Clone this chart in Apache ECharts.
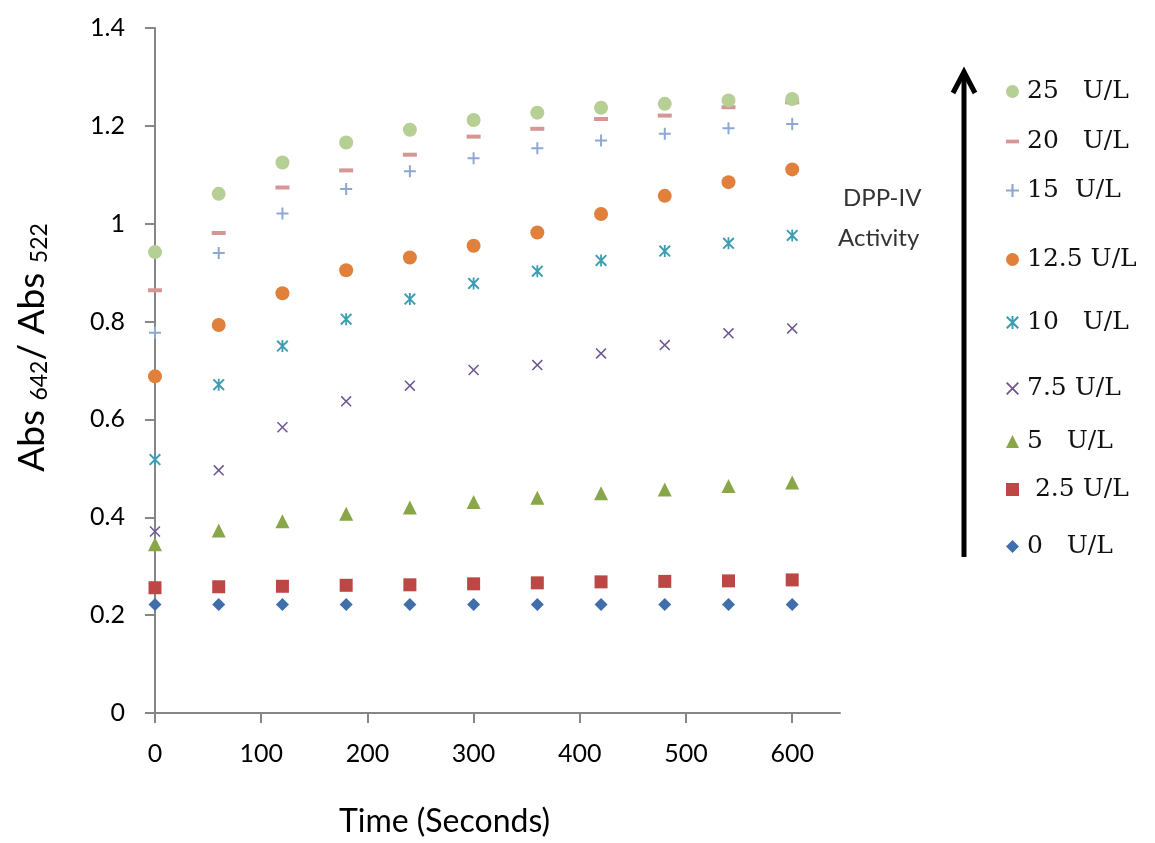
<!DOCTYPE html>
<html>
<head>
<meta charset="utf-8">
<script src="https://cdn.jsdelivr.net/npm/echarts@6/dist/echarts.min.js"></script>
<style>
  html, body { margin: 0; padding: 0; background: #fff; }
  #chart { width: 1155px; height: 843px; }
</style>
</head>
<body>
<div id="chart"></div>
<script>
// time points (s)
var times = [0, 60, 120, 180, 240, 300, 360, 420, 480, 540, 600];
var xTicks = [0, 100, 200, 300, 400, 500, 600];

// Abs642/Abs522 per DPP-IV activity
var u0   = [0.222, 0.222, 0.222, 0.222, 0.222, 0.222, 0.222, 0.222, 0.222, 0.222, 0.222];
var u2_5 = [0.256, 0.258, 0.259, 0.261, 0.262, 0.264, 0.266, 0.268, 0.269, 0.270, 0.272];
var u5   = [0.345, 0.373, 0.392, 0.407, 0.420, 0.431, 0.440, 0.449, 0.457, 0.464, 0.471];
var u7_5 = [0.371, 0.496, 0.584, 0.637, 0.669, 0.701, 0.711, 0.735, 0.752, 0.776, 0.786];
var u10  = [0.518, 0.671, 0.750, 0.805, 0.846, 0.878, 0.903, 0.925, 0.944, 0.960, 0.976];
var u12_5= [0.688, 0.793, 0.858, 0.905, 0.931, 0.955, 0.982, 1.020, 1.057, 1.085, 1.111];
var u15  = [0.777, 0.940, 1.021, 1.071, 1.107, 1.134, 1.154, 1.170, 1.184, 1.195, 1.204];
var u20  = [0.864, 0.981, 1.074, 1.109, 1.141, 1.178, 1.194, 1.214, 1.221, 1.238, 1.248];
var u25  = [0.942, 1.061, 1.125, 1.166, 1.192, 1.212, 1.227, 1.237, 1.245, 1.252, 1.255];

var seriesNames = ['0 U/L', '2.5 U/L', '5 U/L', '7.5 U/L', '10 U/L', '12.5 U/L', '15 U/L', '20 U/L', '25 U/L'];
var legendLabels = ['0   U/L', ' 2.5 U/L', '5   U/L', '7.5 U/L', '10   U/L', '12.5 U/L', '15  U/L', '20   U/L', '25   U/L'];
var seriesData = [u0, u2_5, u5, u7_5, u10, u12_5, u15, u20, u25];

var PATH_PLUS = 'path://M5,0h2v5h5v2h-5v5h-2v-5h-5v-2h5z';
var PATH_X = 'path://M1.2,0L12,10.8L10.8,12L0,1.2Z M10.8,0L12,1.2L1.2,12L0,10.8Z';
var PATH_STAR = 'path://M1.4,0L12,10.6L10.6,12L0,1.4Z M10.6,0L12,1.4L1.4,12L0,10.6Z M5.1,0h1.8v12h-1.8z';
var PATH_DASH = 'path://M0,0h14v4h-14z';

var colors  = ['#3f6eab', '#bd4745', '#8aa64a', '#6f5792', '#3f9db3', '#e0803a', '#8ea7d3', '#d69696', '#b5cf94'];
var symbols = ['diamond', 'rect', 'triangle', PATH_X, PATH_STAR, 'circle', PATH_PLUS, PATH_DASH, 'circle'];
var sizes   = [13, 13, 14, 11, 12, 14, 12, [14, 4], 14];
// legend row centres (px), same order as series
var legendY = [542, 485, 437, 384, 318, 255, 186, 137, 87];

var chart = echarts.init(document.getElementById('chart'));

var series = seriesNames.map(function (name, i) {
  return {
    name: name,
    type: 'scatter',
    clip: false,
    symbol: symbols[i],
    symbolSize: sizes[i],
    itemStyle: { color: colors[i], opacity: 1 },
    data: times.map(function (t, k) { return [t, seriesData[i][k]]; })
  };
});

var legends = seriesNames.map(function (name, i) {
  return {
    left: 1001,
    top: legendY[i] - 13,
    orient: 'vertical',
    selectedMode: false,
    itemWidth: 13,
    itemHeight: 13,
    data: [name],
    formatter: function () { return legendLabels[i]; },
    textStyle: { fontFamily: 'DejaVu Serif', fontSize: 25, color: '#111', padding: [0, 0, 0, 3] }
  };
});

var option = {
  backgroundColor: '#fff',
  animation: false,
  grid: { left: 155, top: 28, right: 315, bottom: 130 },
  legend: legends,
  xAxis: {
    type: 'value',
    min: 0,
    max: 645,
    interval: 100,
    name: 'Time (Seconds)',
    nameLocation: 'middle',
    nameGap: 93,
    nameTextStyle: { fontFamily: 'Lato', fontSize: 32, color: '#000', padding: [0, 106, 0, 0] },
    axisLine: { lineStyle: { color: '#868686', width: 2 } },
    axisTick: { show: true, inside: false, length: 10, customValues: xTicks, lineStyle: { color: '#868686', width: 2 } },
    axisLabel: { customValues: xTicks, margin: 28, fontFamily: 'Lato', fontSize: 25, color: '#000' },
    splitLine: { show: false }
  },
  yAxis: {
    type: 'value',
    min: 0,
    max: 1.4,
    interval: 0.2,
    name: '{a|Abs }{b|642}{a|/ Abs }{b|522}',
    nameLocation: 'middle',
    nameRotate: 90,
    nameGap: 104,
    nameTextStyle: {
      padding: [0, 0, 0, 46],
      rich: {
        a: { fontFamily: 'Lato', fontSize: 37, lineHeight: 50, color: '#000', verticalAlign: 'bottom' },
        b: { fontFamily: 'Lato', fontSize: 23, lineHeight: 23, color: '#000', verticalAlign: 'bottom' }
      }
    },
    axisLine: { show: true, lineStyle: { color: '#868686', width: 2 } },
    axisTick: { show: true, inside: false, length: 10, lineStyle: { color: '#868686', width: 2 } },
    axisLabel: { margin: 30, fontFamily: 'Lato', fontSize: 25, color: '#000' },
    splitLine: { show: false }
  },
  graphic: [
    { type: 'line', shape: { x1: 964, y1: 557, x2: 964, y2: 74 }, style: { stroke: '#000', lineWidth: 5 } },
    { type: 'polyline', shape: { points: [[953, 93], [964, 72], [975, 93]] }, style: { stroke: '#000', lineWidth: 5, fill: null } },
    { type: 'text', left: 843, top: 186, style: { text: 'DPP-IV', fontFamily: 'Lato', fontSize: 24, fill: '#333' } },
    { type: 'text', left: 838, top: 226, style: { text: 'Activity', fontFamily: 'Lato', fontSize: 24, fill: '#333' } }
  ],
  series: series
};

chart.setOption(option);
</script>
</body>
</html>
